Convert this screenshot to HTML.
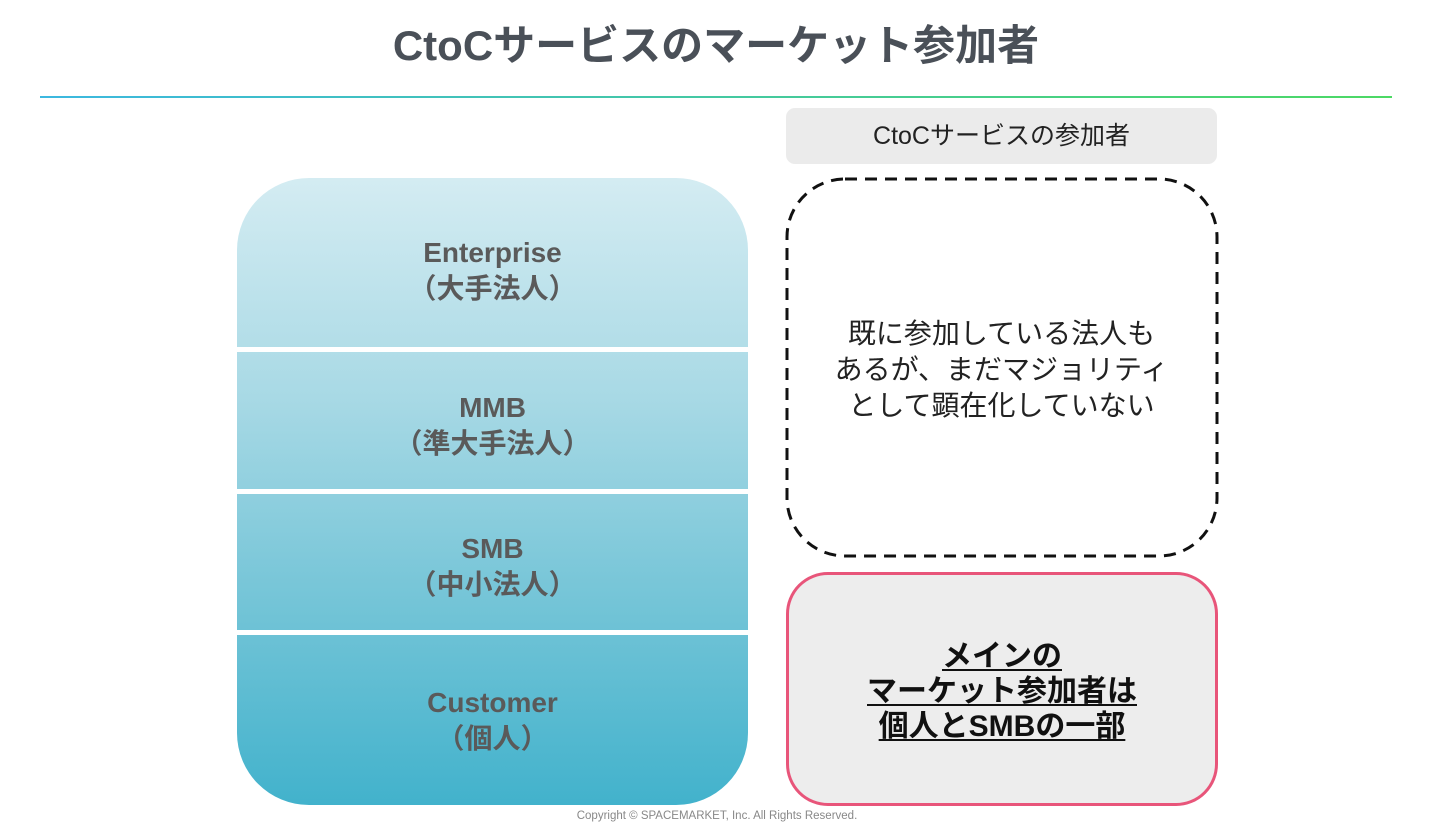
<!DOCTYPE html>
<html><head><meta charset="utf-8"><style>
body{margin:0;width:1440px;height:836px;background:#fff;position:relative;overflow:hidden;font-family:"Liberation Sans","Noto Sans CJK JP",sans-serif;}
.abs{position:absolute;}
#title{left:0;width:1432px;top:16px;text-align:center;font-size:42px;font-weight:bold;color:#4a5058;line-height:60px;}
#rule{left:40px;top:96px;width:1352px;height:2px;background:linear-gradient(90deg,#3cb8e0,#4cd964);}
#stack{left:237px;top:178px;width:511px;height:627px;border-radius:72px;overflow:hidden;background:linear-gradient(180deg,#d4ecf2 0%,#a8d9e5 35%,#78c6d8 65%,#42b2cc 100%);}
.sep{position:absolute;left:0;width:511px;height:5px;background:#fff;}
.lbl{position:absolute;left:0;width:511px;text-align:center;font-weight:bold;font-size:28px;line-height:36px;color:#5a5a5a;}
#hdr{left:786px;top:108px;width:431px;height:56px;background:#ebebeb;border-radius:9px;text-align:center;line-height:56px;font-size:25px;color:#222;}
#dtxt{left:786px;top:316px;width:431px;text-align:center;font-size:28px;line-height:36px;color:#222;}
#pink{left:786px;top:572px;width:426px;height:228px;border:3px solid #e8557a;border-radius:42px;background:#ededed;}
#ptxt{left:786px;top:639px;width:432px;text-align:center;font-size:30px;font-weight:bold;line-height:35px;color:#111;}
#ptxt span{text-decoration:underline;text-decoration-thickness:2px;text-underline-offset:3px;}
#copy{left:0;width:1434px;top:810px;text-align:center;font-size:11.5px;color:#888;}
</style></head><body>
<div id="title" class="abs">CtoCサービスのマーケット参加者</div>
<div id="rule" class="abs"></div>
<div id="stack" class="abs">
  <div class="sep" style="top:169px"></div>
  <div class="sep" style="top:311px"></div>
  <div class="sep" style="top:452px"></div>
  <div class="lbl" style="top:57px">Enterprise<br>（大手法人）</div>
  <div class="lbl" style="top:212px">MMB<br>（準大手法人）</div>
  <div class="lbl" style="top:353px">SMB<br>（中小法人）</div>
  <div class="lbl" style="top:507px">Customer<br>（個人）</div>
</div>
<div id="hdr" class="abs">CtoCサービスの参加者</div>
<svg class="abs" style="left:784px;top:176px" width="436" height="383">
<rect x="3" y="3" width="430" height="377" rx="58" ry="58" fill="none" stroke="#111" stroke-width="3" stroke-dasharray="12,8"/>
</svg>
<div id="dtxt" class="abs">既に参加している法人も<br>あるが、まだマジョリティ<br>として顕在化していない</div>
<div id="pink" class="abs"></div>
<div id="ptxt" class="abs"><span>メインの</span><br><span>マーケット参加者は</span><br><span>個人とSMBの一部</span></div>
<div id="copy" class="abs">Copyright © SPACEMARKET, Inc. All Rights Reserved.</div>
</body></html>
